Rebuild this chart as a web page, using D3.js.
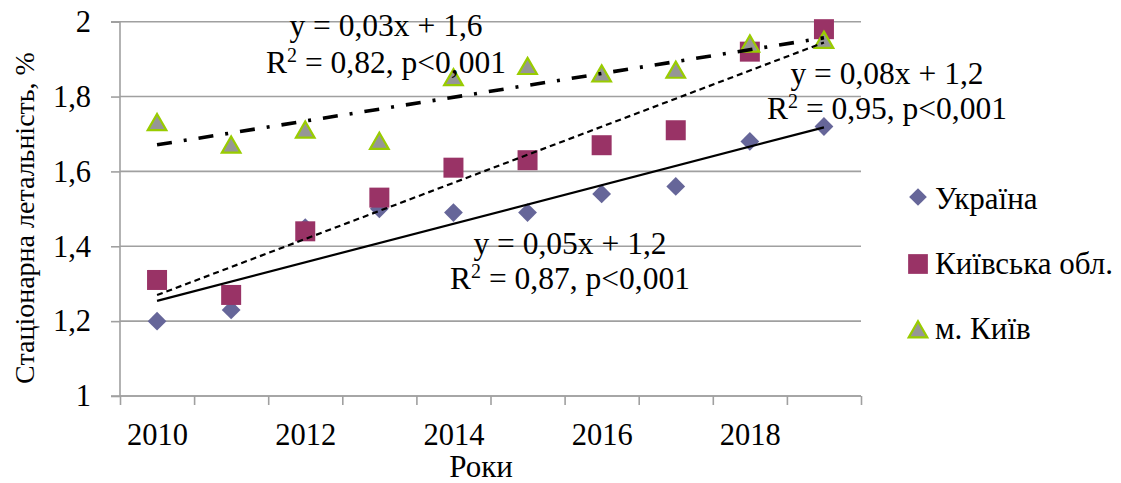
<!DOCTYPE html>
<html><head><meta charset="utf-8">
<script src="https://cdn.jsdelivr.net/npm/d3@7"></script>
<style>
body{margin:0;background:#fff}
svg text{fill:#000}
</style></head><body>
<svg id="c" width="1121" height="483"></svg>
<script>
const years = [2010,2011,2012,2013,2014,2015,2016,2017,2018,2019];
const ukraine = [1.20,1.23,1.45,1.50,1.49,1.49,1.54,1.56,1.68,1.72];
const kyivObl = [1.31,1.27,1.44,1.53,1.61,1.63,1.67,1.71,1.92,1.98];
const kyivCity = [1.73,1.67,1.71,1.68,1.85,1.88,1.86,1.87,1.94,1.95];
const seriesNames = ["Україна","Київська обл.","м. Київ"];
const yTicks = [1,1.2,1.4,1.6,1.8,2];
const xLabelTicks = [2010,2012,2014,2016,2018];
const xMinorTicks = [2009.5,2010.5,2011.5,2012.5,2013.5,2014.5,2015.5,2016.5,2017.5,2018.5,2019.5];
const annotations = [
  {eq:"y = 0,03x + 1,6", r2:"0,82"},
  {eq:"y = 0,08x + 1,2", r2:"0,95"},
  {eq:"y = 0,05x + 1,2", r2:"0,87"}
];

const svg = d3.select("#c");
const x = d3.scaleLinear().domain([2009.5,2019.5]).range([120,861]);
const y = d3.scaleLinear().domain([1,2]).range([396,21.7]);
const fmt = v => d3.format(".1f")(v).replace(".0","").replace(".",",");
const FONT = "'Liberation Serif','Times New Roman',serif";
const GRID = "#a0a0a0";

// gridlines
svg.append("g").selectAll("line").data(yTicks).join("line")
  .attr("x1",x.range()[0]).attr("x2",x.range()[1])
  .attr("y1",d=>y(d)).attr("y2",d=>y(d))
  .attr("stroke",GRID).attr("stroke-width",1.6);

// y axis
const ya = svg.append("g").attr("transform",`translate(${x.range()[0]},0)`)
  .call(d3.axisLeft(y).tickValues(yTicks).tickSize(9).tickFormat(fmt));
ya.attr("font-family",FONT);
ya.select(".domain").attr("stroke",GRID).attr("stroke-width",1.6).attr("d",`M-9,${y(1)}H0V${y(2)}H-9`);
ya.selectAll(".tick line").attr("stroke",GRID).attr("stroke-width",1.6);
ya.selectAll(".tick text").attr("x",-29).attr("font-size",30.5).attr("fill","#000");

// x axis
const xa = svg.append("g").attr("transform",`translate(0,${y(1)})`)
  .call(d3.axisBottom(x).tickValues(xMinorTicks).tickSize(9).tickFormat(""));
xa.select(".domain").attr("stroke",GRID).attr("stroke-width",1.6).attr("d",`M${x.range()[0]},0H${x.range()[1]}`);
xa.selectAll(".tick line").attr("stroke",GRID).attr("stroke-width",1.6);
const xl = svg.append("g").attr("transform",`translate(0,${y(1)})`)
  .call(d3.axisBottom(x).tickValues(xLabelTicks).tickSize(0).tickFormat(d3.format("d")));
xl.attr("font-family",FONT);
xl.select(".domain").remove();
xl.selectAll(".tick text").attr("y",49).attr("dy",0).attr("font-size",30.5).attr("fill","#000");

// axis titles
svg.append("text").attr("x",481).attr("y",477).attr("text-anchor","middle").attr("font-family",FONT).attr("font-size",31).text("Роки");
svg.append("text").attr("transform","translate(34,218) rotate(-90)").attr("text-anchor","middle").attr("font-family",FONT).attr("font-size",28).text("Стаціонарна летальність, %");

// markers
const colors = {d:"#666699", s:"#993366", tFill:"#969696", tStroke:"#99cc00"};
const diamond = d3.symbol().type(d3.symbolDiamond2).size(225);
const square = d3.symbol().type(d3.symbolSquare).size(400);
const tri = d3.symbol().type(d3.symbolTriangle).size(150);

svg.append("g").selectAll("path").data(years).join("path")
  .attr("d",diamond).attr("transform",(d,i)=>`translate(${x(d)},${y(ukraine[i])})`).attr("fill",colors.d);
svg.append("g").selectAll("path").data(years).join("path")
  .attr("d",square).attr("transform",(d,i)=>`translate(${x(d)},${y(kyivObl[i])})`).attr("fill",colors.s);
svg.append("g").selectAll("path").data(years).join("path")
  .attr("d",tri).attr("transform",(d,i)=>`translate(${x(d)},${y(kyivCity[i])+2})`)
  .attr("fill",colors.tFill).attr("stroke",colors.tStroke).attr("stroke-width",2.2);

// trendlines (least squares on index 1..n)
function fit(vals){
  const xs=vals.map((v,i)=>i+1);
  const mx=d3.mean(xs), my=d3.mean(vals);
  const b=d3.sum(xs.map((xx,i)=>(xx-mx)*(vals[i]-my)))/d3.sum(xs.map(xx=>(xx-mx)**2));
  const a=my-b*mx;
  return xs.map(xx=>a+b*xx);
}
function trend(vals,dash,w){
  const f=fit(vals);
  const pts=[[years[0],f[0]],[years[years.length-1],f[f.length-1]]];
  svg.append("path").datum(pts)
    .attr("d",d3.line().x(d=>x(d[0])).y(d=>y(d[1])))
    .attr("fill","none").attr("stroke","#000").attr("stroke-width",w)
    .attr("stroke-dasharray",dash);
}
trend(ukraine,null,2.2);
trend(kyivObl,"6,4",2.2);
trend(kyivCity,"15,12,3,12",3.6);

// annotations
const annPos=[[386,36,73],[887,84,119],[570,254,289]];
annotations.forEach((a,i)=>{
  const [cx,y1,y2]=annPos[i];
  svg.append("text").attr("x",cx).attr("y",y1).attr("text-anchor","middle").attr("font-family",FONT).attr("font-size",31.5).text(a.eq);
  const t=svg.append("text").attr("x",cx).attr("y",y2).attr("text-anchor","middle").attr("font-family",FONT).attr("font-size",31.5);
  t.append("tspan").text("R");
  t.append("tspan").attr("dy",-11).attr("font-size",20).text("2");
  t.append("tspan").attr("dy",11).text(" = "+a.r2+", p<0,001");
});

// legend
const legY=[197,264,330];
const legBase=[209,274,339];
const lg=svg.append("g");
lg.append("path").attr("d",d3.symbol().type(d3.symbolDiamond2).size(200)).attr("transform",`translate(918,${legY[0]})`).attr("fill",colors.d);
lg.append("path").attr("d",d3.symbol().type(d3.symbolSquare).size(390)).attr("transform",`translate(918,${legY[1]})`).attr("fill",colors.s);
lg.append("path").attr("d",d3.symbol().type(d3.symbolTriangle).size(150)).attr("transform",`translate(918,${legY[2]+2})`).attr("fill",colors.tFill).attr("stroke",colors.tStroke).attr("stroke-width",2.2);
seriesNames.forEach((n,i)=>{
  lg.append("text").attr("x",935).attr("y",legBase[i]).attr("font-family",FONT).attr("font-size",31).text(n);
});
</script>
</body></html>
